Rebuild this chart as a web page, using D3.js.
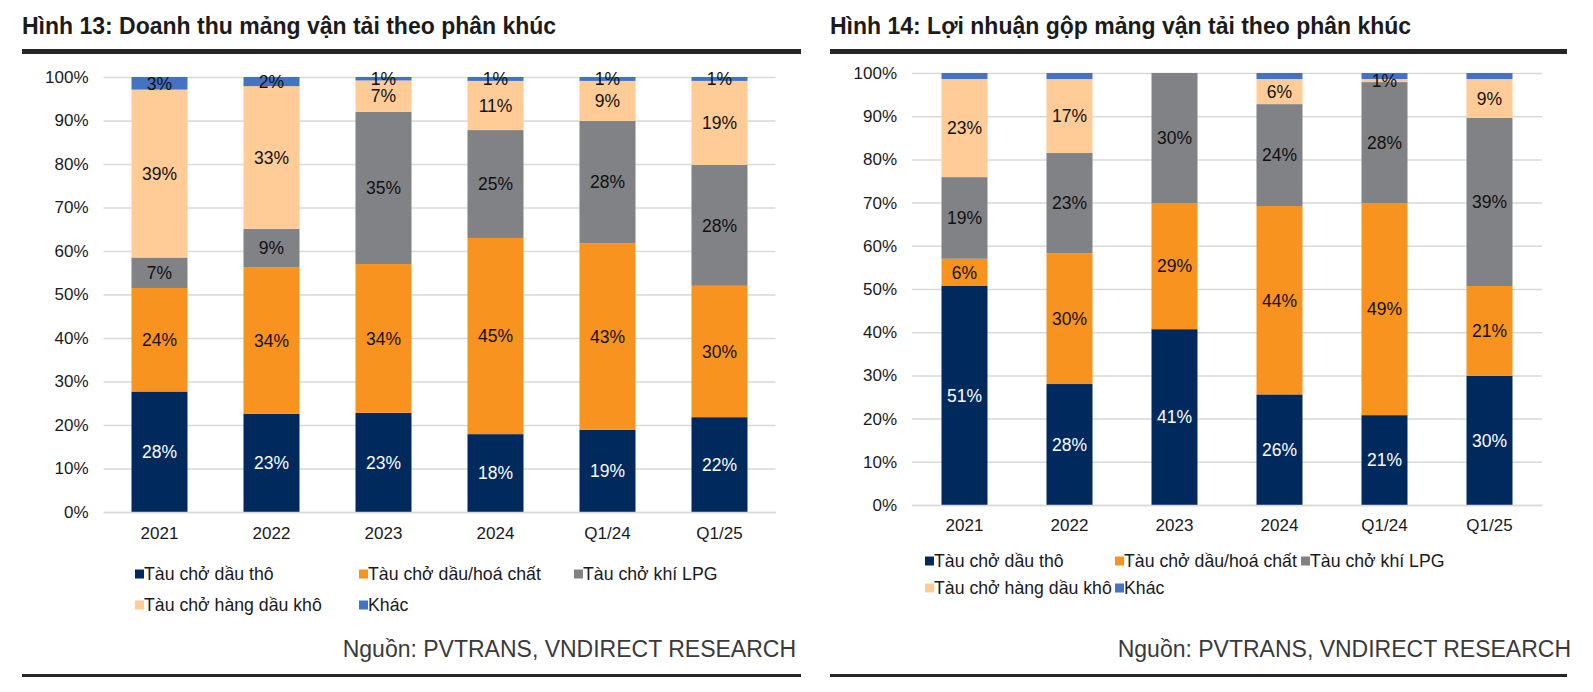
<!DOCTYPE html>
<html>
<head>
<meta charset="utf-8">
<script src="https://cdn.jsdelivr.net/npm/d3@7"></script>
<style>
  body { margin: 0; background: #fff; }
  svg { display: block; font-family: "Liberation Sans", Arial, sans-serif; }
</style>
</head>
<body>
<svg id="chart" width="1593" height="692"></svg>
<script>
// categories & series (% of total)
var categories = ["2021", "2022", "2023", "2024", "Q1/24", "Q1/25"];
var seriesNames = ["Tàu chở dầu thô", "Tàu chở dầu/hoá chất", "Tàu chở khí LPG", "Tàu chở hàng dầu khô", "Khác"];
var yTicks = [0, 10, 20, 30, 40, 50, 60, 70, 80, 90, 100];

// Hình 13: Doanh thu
var revCrude = [27.7, 22.6, 22.8, 17.9, 18.9, 21.8];
var revChem  = [23.8, 33.7, 34.2, 45.1, 42.9, 30.2];
var revLpg   = [7.0, 8.8, 35.0, 24.8, 28.1, 27.8];
var revDry   = [38.6, 32.8, 7.2, 11.3, 9.2, 19.3];
var revOther = [2.9, 2.1, 0.8, 0.9, 0.9, 0.9];

// Hình 14: Lợi nhuận gộp
var gpCrude = [50.7, 28.0, 40.7, 25.6, 20.8, 29.9];
var gpChem  = [6.3, 30.3, 29.2, 43.6, 49.1, 20.8];
var gpLpg   = [18.9, 23.2, 30.1, 23.6, 28.0, 38.9];
var gpDry   = [22.7, 17.1, 0, 5.8, 0.7, 9.0];
var gpOther = [1.4, 1.4, 0, 1.4, 1.4, 1.4];

var colors = ["#002A5E", "#F7931E", "#808285", "#FFCB96", "#4472C4"];
var labelColors = ["#fff", "#111", "#111", "#111", "#111"];

var svg = d3.select("#chart");

function drawChart(cfg) {
  var g = svg.append("g");
  var rows = categories.map(function (c, i) {
    var r = { cat: c };
    cfg.series.forEach(function (s, k) { r[k] = s[i]; });
    return r;
  });
  var stack = d3.stack().keys(d3.range(cfg.series.length)).offset(d3.stackOffsetExpand)(rows);

  var x = d3.scaleBand().domain(categories).range(cfg.xRange)
      .paddingInner(cfg.pad).paddingOuter(cfg.pad / 2);
  var y = d3.scaleLinear().domain([0, 1]).range(cfg.yRange);

  // title
  g.append("text").attr("x", cfg.left).attr("y", 34)
    .attr("font-size", 23).attr("font-weight", "bold").attr("fill", "#1b1b1b")
    .text(cfg.title);
  g.append("rect").attr("x", cfg.left).attr("y", 49).attr("width", cfg.right - cfg.left)
    .attr("height", 5).attr("fill", "#262626");

  // grid + y axis
  var yAxis = d3.axisLeft(y).tickValues(yTicks.map(function (t) { return t / 100; }))
    .tickSize(-(cfg.xRange[1] - cfg.xRange[0]))
    .tickFormat(function (d) { return Math.round(d * 100) + "%"; })
    .tickPadding(15);
  var ya = g.append("g").attr("transform", "translate(" + cfg.xRange[0] + ",0)").call(yAxis);
  ya.select(".domain").remove();
  ya.selectAll("line").attr("stroke", "#d9d9d9").attr("stroke-width", 1.5);
  ya.selectAll("text").attr("font-size", 17).attr("fill", "#1a1a1a")
    .attr("font-family", "Liberation Sans, Arial, sans-serif");

  // bars
  stack.forEach(function (layer, k) {
    g.append("g").selectAll("rect").data(layer).enter().append("rect")
      .attr("x", function (d) { return x(d.data.cat); })
      .attr("width", x.bandwidth())
      .attr("y", function (d) { return y(d[1]); })
      .attr("height", function (d) { return y(d[0]) - y(d[1]); })
      .attr("fill", colors[k]);
  });

  // data labels
  stack.forEach(function (layer, k) {
    g.append("g").selectAll("text").data(layer.filter(function (d, i) {
        return cfg.showLabel(k, i) && cfg.series[k][i] > 0;
      })).enter().append("text")
      .attr("x", function (d) { return x(d.data.cat) + x.bandwidth() / 2; })
      .attr("y", function (d) { return (y(d[0]) + y(d[1])) / 2; })
      .attr("dy", "0.36em")
      .attr("text-anchor", "middle")
      .attr("font-size", 17.5)
      .attr("fill", labelColors[k])
      .text(function (d) { return Math.round(d.data[k]) + "%"; });
  });

  // x axis labels
  var xa = g.append("g").attr("transform", "translate(0," + cfg.yRange[0] + ")")
    .call(d3.axisBottom(x).tickSize(0).tickPadding(cfg.xLabelPad));
  xa.select(".domain").attr("stroke", "#d9d9d9").attr("stroke-width", 1.5);
  xa.selectAll("text").attr("font-size", 17).attr("fill", "#1a1a1a")
    .attr("font-family", "Liberation Sans, Arial, sans-serif");

  // legend
  seriesNames.forEach(function (name, k) {
    var col = k < 3 ? k : k - 3;
    var row = k < 3 ? 0 : 1;
    var lx = cfg.legendX[col];
    var ly = cfg.legendY[row];
    g.append("rect").attr("x", lx).attr("y", ly - 4.5).attr("width", 9).attr("height", 9)
      .attr("fill", colors[k]);
    g.append("text").attr("x", lx + 9).attr("y", ly).attr("dy", "0.36em")
      .attr("font-size", 17.7).attr("fill", "#1a1a1a").text(name);
  });

  // source
  g.append("text").attr("x", cfg.sourceX).attr("y", 657).attr("text-anchor", "end")
    .attr("font-size", 23).attr("fill", "#3a3a3a")
    .text("Nguồn: PVTRANS, VNDIRECT RESEARCH");
  g.append("rect").attr("x", cfg.left).attr("y", 674).attr("width", cfg.right - cfg.left)
    .attr("height", 3).attr("fill", "#262626");
}

drawChart({
  title: "Hình 13: Doanh thu mảng vận tải theo phân khúc",
  series: [revCrude, revChem, revLpg, revDry, revOther],
  showLabel: function () { return true; },
  left: 22, right: 801,
  xRange: [103.5, 775.5], yRange: [512, 77], pad: 0.5,
  xLabelPad: 15,
  legendX: [135, 359, 574], legendY: [574, 605],
  sourceX: 796
});

drawChart({
  title: "Hình 14: Lợi nhuận gộp mảng vận tải theo phân khúc",
  series: [gpCrude, gpChem, gpLpg, gpDry, gpOther],
  showLabel: function (k) { return k !== 4; },
  left: 830, right: 1567,
  xRange: [912, 1542], yRange: [505, 73], pad: 59 / 105,
  xLabelPad: 14,
  legendX: [925, 1115, 1301], legendY: [561, 588],
  sourceX: 1571
});
</script>
</body>
</html>
